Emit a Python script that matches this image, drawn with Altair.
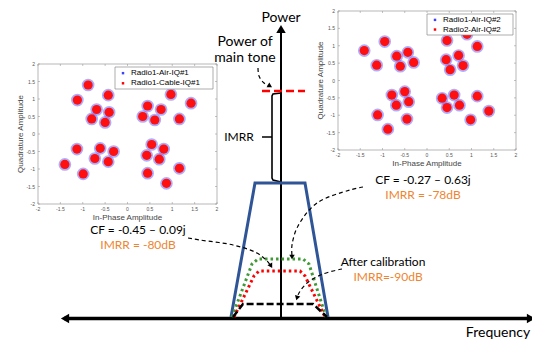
import altair as alt
import pandas as pd

# ---------------- data ----------------
ticks = [-2, -1.5, -1, -0.5, 0, 0.5, 1, 1.5, 2]
tick_labels = ["-2", "-1.5", "-1", "-0.5", "0", "0.5", "1", "1.5", "2"]

# constellation cluster centres (In-Phase, Quadrature)
left_I = [-0.88, -1.12, -0.43, -0.69, -0.41, -0.80, -0.50,
          0.97, 1.42, 0.45, 0.75, 0.34, 0.61, 1.16,
          -1.13, -0.61, -0.31, -0.73, -0.43, -1.40, -0.99,
          0.54, 0.81, 0.43, 0.71, 1.16, 0.45, 0.87]
left_Q = [1.40, 0.97, 1.11, 0.70, 0.62, 0.43, 0.33,
          1.13, 0.88, 0.80, 0.70, 0.50, 0.40, 0.43,
          -0.43, -0.41, -0.50, -0.70, -0.79, -0.87, -1.14,
          -0.30, -0.43, -0.61, -0.72, -0.98, -1.12, -1.41]
left_series = ["Radio1-Air-IQ#1", "Radio1-Cable-IQ#1"]

right_I = [-1.41, -0.95, -1.13, -0.68, -0.43, -0.60, -0.30,
           0.45, 1.13, 0.71, 0.43, 0.81, 0.52, 0.90,
           -0.50, -0.79, -0.41, -0.69, -1.11, -0.45, -0.88,
           0.34, 0.61, 1.13, 0.45, 0.73, 1.39, 0.98]
right_Q = [0.86, 1.12, 0.44, 0.70, 0.81, 0.41, 0.52,
           1.15, 0.98, 0.72, 0.60, 0.43, 0.31, 1.33,
           -0.32, -0.42, -0.61, -0.71, -0.99, -1.11, -1.40,
           -0.51, -0.42, -0.45, -0.78, -0.71, -0.88, -1.13]
right_series = ["Radio1-Air-IQ#2", "Radio2-Air-IQ#2"]

# spectrum sketch (canvas coordinates)
blue_x = [231, 255, 305, 328]
blue_y = [317, 183, 183, 317]
green_x = [232, 252, 258, 303, 309, 326]
green_y = [317, 264, 259, 259, 264, 317]
red_x = [234, 254, 259, 300, 305, 325]
red_y = [317, 276, 271, 271, 276, 317]
black_x = [233, 243, 313, 327]
black_y = [317, 304, 304, 317]
tone_x = [281, 273, 272, 272, 273, 281]
tone_y = [182, 180, 178, 96, 94, 93]

arrow1_x = [258, 259, 264, 270]
arrow1_y = [68, 76, 83, 86]
arrow2_x = [188, 200, 233, 257, 267, 271]
arrow2_y = [238, 240, 245, 253, 261, 266]
arrow3_x = [363, 350, 317, 298, 292, 292]
arrow3_y = [187, 190, 203, 226, 245, 256]
arrow4_x = [342, 323, 307, 299, 297]
arrow4_y = [269, 274, 283, 293, 298]
head_x = [270, 271, 292, 297]
head_y = [86, 266, 257, 298]
head_angle = [300, 330, 0, 16]

big_text = ["Power", "Power of", "main tone", "Frequency"]
big_text_x = [281, 245, 245, 498]
big_text_y = [18, 42, 58, 333]
black_text = ["IMRR", "CF = -0.45 \u2013 0.09j", "CF = -0.27 \u2013 0.63j", "After calibration"]
black_text_x = [239, 138, 423, 383]
black_text_y = [137, 230, 180, 262]
orange_text = ["IMRR = -80dB", "IMRR = -78dB", "IMRR=-90dB"]
orange_text_x = [138, 423, 388]
orange_text_y = [245, 195, 277]

FONT = "Lato"
SANS = "Liberation Sans"
ORANGE = "#ee8530"

X = alt.Scale(domain=[8, 532])
Y = alt.Scale(domain=[8, 339], reverse=True)


def ex(f):
    return alt.X(f, type="quantitative", scale=X, axis=None)


def ey(f):
    return alt.Y(f, type="quantitative", scale=Y, axis=None)


def poly(xs, ys, **kw):
    df = pd.DataFrame({"x": xs, "y": ys, "k": list(range(len(xs)))})
    return alt.Chart(df).mark_line(**kw).encode(
        x=ex("x"), y=ey("y"), order=alt.Order("k:Q"))


def panel(I, Q, series, box, leg):
    x0, x1, y0, y1 = box
    w, h = x1 - x0, y1 - y0
    pxe = lambda f: f"{x0} + (datum.{f} + 2) / 4 * {w}"
    pye = lambda f: f"{y1} - (datum.{f} + 2) / 4 * {h}"
    layers = []
    frame = pd.DataFrame({"i": [-2], "q": [-2], "i2": [2], "q2": [2]})
    layers.append(alt.Chart(frame).transform_calculate(
        px=pxe("i"), py=pye("q"), px2=pxe("i2"), py2=pye("q2")
    ).mark_rect(fill="white", stroke="#9a9a9a", strokeWidth=0.7).encode(
        x=ex("px"), x2="px2:Q", y=ey("py"), y2="py2:Q"))
    tk = pd.DataFrame({"t": ticks, "lab": tick_labels})
    for expr_x, expr_x2, expr_y, expr_y2 in [
        (pxe("t"), pxe("t"), f"{y1}", f"{y1 - 2}"),
        (pxe("t"), pxe("t"), f"{y0}", f"{y0 + 2}"),
        (f"{x0}", f"{x0 + 2}", pye("t"), pye("t")),
        (f"{x1}", f"{x1 - 2}", pye("t"), pye("t")),
    ]:
        layers.append(alt.Chart(tk).transform_calculate(
            px=expr_x, px2=expr_x2, py=expr_y, py2=expr_y2
        ).mark_rule(color="#9a9a9a", strokeWidth=0.6).encode(
            x=ex("px"), x2="px2:Q", y=ey("py"), y2="py2:Q"))
    layers.append(alt.Chart(tk).transform_calculate(
        px=pxe("t"), py=f"{y1 + 5}"
    ).mark_text(font=SANS, fontSize=5, color="#555").encode(
        x=ex("px"), y=ey("py"), text="lab:N"))
    layers.append(alt.Chart(tk).transform_calculate(
        px=f"{x0 - 3}", py=pye("t")
    ).mark_text(font=SANS, fontSize=5, color="#555", align="right").encode(
        x=ex("px"), y=ey("py"), text="lab:N"))
    layers.append(alt.Chart(pd.DataFrame({"t": ["In-Phase Amplitude"]})).transform_calculate(
        px=f"{(x0 + x1) / 2}", py=f"{y1 + 14}"
    ).mark_text(font=SANS, fontSize=8, color="#444").encode(
        x=ex("px"), y=ey("py"), text="t:N"))
    layers.append(alt.Chart(pd.DataFrame({"t": ["Quadrature Amplitude"]})).transform_calculate(
        px=f"{x0 - 17}", py=f"{(y0 + y1) / 2}"
    ).mark_text(font=SANS, fontSize=8, color="#444", angle=270).encode(
        x=ex("px"), y=ey("py"), text="t:N"))
    pts = pd.DataFrame({"i": I, "q": Q})
    base = alt.Chart(pts).transform_calculate(px=pxe("i"), py=pye("q"))
    layers.append(base.mark_circle(size=160, color="#6a6aff", opacity=0.55).encode(
        x=ex("px"), y=ey("py")))
    layers.append(base.mark_circle(size=85, color="#ff1010", opacity=1).encode(
        x=ex("px"), y=ey("py")))
    lx0, ly0, lx1, ly1 = leg
    lb = pd.DataFrame({"a": [lx0], "b": [ly0], "c": [lx1], "d": [ly1]})
    layers.append(alt.Chart(lb).mark_rect(fill="white", stroke="#8a8a8a", strokeWidth=0.7).encode(
        x=ex("a"), x2="c:Q", y=ey("b"), y2="d:Q"))
    rows = pd.DataFrame({"s": series, "r": [0, 1]})
    rowbase = alt.Chart(rows).transform_calculate(
        mx=f"{lx0 + 8}", tx=f"{lx0 + 16}",
        my=f"{ly0} + ({ly1 - ly0}) * (0.28 + 0.46 * datum.r)")
    layers.append(rowbase.mark_square(size=6, opacity=1).encode(
        x=ex("mx"), y=ey("my"),
        color=alt.Color("s:N", scale=alt.Scale(domain=series, range=["#4040ff", "#ff0000"]), legend=None)))
    layers.append(rowbase.mark_text(font=SANS, fontSize=8, align="left", color="black").encode(
        x=ex("tx"), y=ey("my"), text="s:N"))
    return layers


layers = []
layers.append(poly([64, 532], [318.5, 318.5], color="black", strokeWidth=3.5))
layers.append(poly([281, 281], [29, 319], color="black", strokeWidth=2))
heads = pd.DataFrame({"x": [65, 531, 281], "y": [318.5, 318.5, 29],
                      "s": ["triangle-left", "triangle-right", "triangle-up"]})
layers.append(alt.Chart(heads).mark_point(filled=True, color="black", size=90, opacity=1).encode(
    x=ex("x"), y=ey("y"), shape=alt.Shape("s:N", scale=None)))

layers.append(poly(tone_x, tone_y, color="black", strokeWidth=1.6))
layers.append(poly([262, 305], [91, 91], color="#ff0000", strokeWidth=2.5, strokeDash=[8, 4]))
layers.append(poly([262, 272], [137, 137], color="black", strokeWidth=1.5))

layers.append(poly(blue_x, blue_y, color="#2f5597", strokeWidth=3))
layers.append(poly(green_x, green_y, color="#3f9a35", strokeWidth=3, strokeDash=[2.5, 3]))
layers.append(poly(red_x, red_y, color="#ff0000", strokeWidth=3, strokeDash=[2.5, 3]))
layers.append(poly(black_x, black_y, color="black", strokeWidth=2.5, strokeDash=[7, 3]))

for ax_, ay_ in [(arrow1_x, arrow1_y), (arrow2_x, arrow2_y), (arrow3_x, arrow3_y), (arrow4_x, arrow4_y)]:
    layers.append(poly(ax_, ay_, color="black", strokeWidth=1.2, strokeDash=[4, 3],
                       interpolate="catmull-rom"))
hd = pd.DataFrame({"x": head_x, "y": head_y, "a": head_angle})
layers.append(alt.Chart(hd).mark_point(shape="triangle-down", filled=True, color="black",
                                       size=30, opacity=1).encode(
    x=ex("x"), y=ey("y"), angle=alt.Angle("a:Q", scale=None)))

layers.append(alt.Chart(pd.DataFrame({"t": big_text, "x": big_text_x, "y": big_text_y}))
              .mark_text(font=FONT, fontSize=14, color="black").encode(
    x=ex("x"), y=ey("y"), text="t:N"))
layers.append(alt.Chart(pd.DataFrame({"t": black_text, "x": black_text_x, "y": black_text_y}))
              .mark_text(font=FONT, fontSize=12, color="black").encode(
    x=ex("x"), y=ey("y"), text="t:N"))
layers.append(alt.Chart(pd.DataFrame({"t": orange_text, "x": orange_text_x, "y": orange_text_y}))
              .mark_text(font=FONT, fontSize=12, color=ORANGE).encode(
    x=ex("x"), y=ey("y"), text="t:N"))

layers += panel(left_I, left_Q, left_series, (38, 217, 64, 204), (115, 67, 213, 89))
layers += panel(right_I, right_Q, right_series, (338, 516, 11, 150), (427, 14, 513, 35))

chart = alt.layer(*layers).properties(
    width=524, height=331, padding=0, autosize="none", background="white"
).configure_view(stroke=None)

chart.save("out.html", embed_options={"renderer": "svg", "actions": False})
